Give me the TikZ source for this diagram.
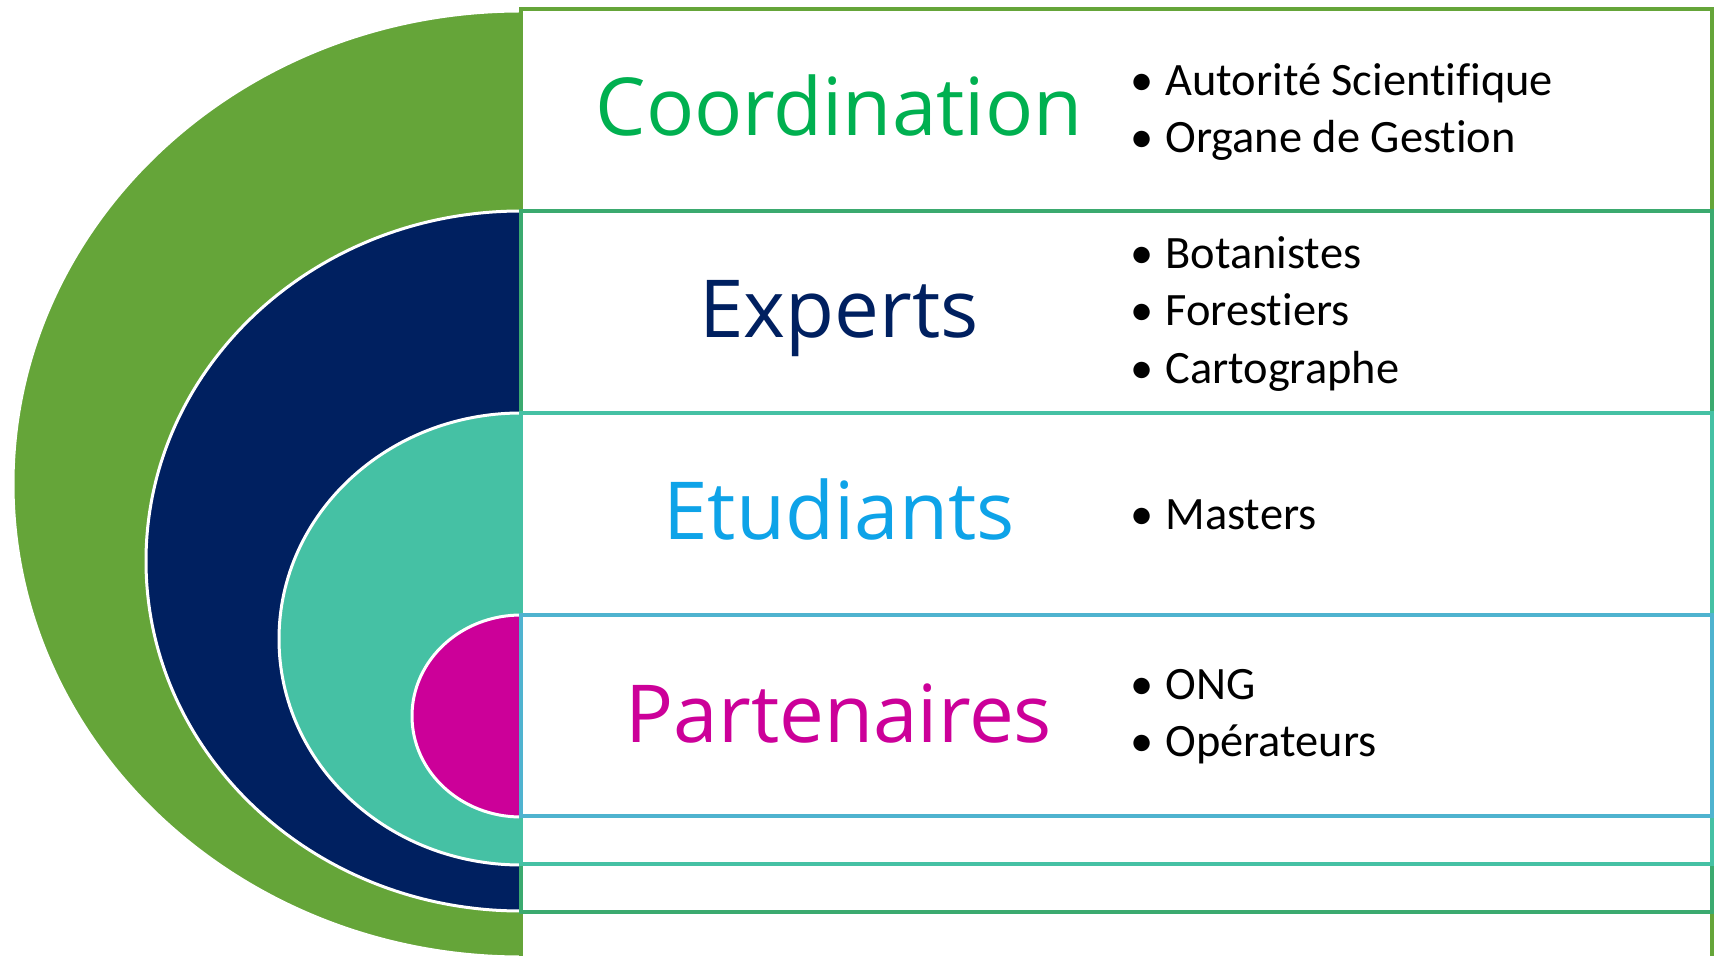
\documentclass[tikz,border=0pt]{standalone}
\usepackage{fontspec}
\newfontfamily\headfont{Open Sans}
\newfontfamily\itemfont[Ligatures=NoCommon]{Carlito}
\definecolor{levA}{HTML}{65A539}
\definecolor{levB}{HTML}{3BAA6F}
\definecolor{levC}{HTML}{45C1A4}
\definecolor{levD}{HTML}{4FB3CF}
\definecolor{navy}{HTML}{002060}
\definecolor{magenta}{HTML}{CC0099}
\definecolor{txtA}{HTML}{00B050}
\definecolor{txtC}{HTML}{0EA3E8}
\newcommand{\itm}[1]{\makebox[17.5pt][l]{\textbullet}#1}

\begin{document}
\begin{tikzpicture}[x=0.5pt,y=-0.5pt]
    \tikzstyle{every node}+=[inner sep=0pt]
    \tikzstyle{head}=[anchor=base,font=\headfont\fontsize{40}{48}\selectfont]
    \tikzstyle{items}=[anchor=west,align=left,font=\itemfont\fontsize{23.2}{28.6}\selectfont]
    \useasboundingbox (0,0) rectangle (1724,956);
    % half ellipses, outer to inner
    \foreach \t/\rx/\ry/\c in {11/254/236.5/levA, 211/187.5/175/navy, 413/121/113/levC, 615/54.5/50.5/magenta}
        \filldraw [white, line width=1.5pt, fill=\c] (521,\t) arc (90:270:\rx pt and \ry pt) -- cycle;
    % nested bands
    \foreach \t/\b/\c in {9/959/levA, 211/912/levB, 413/864/levC, 615/816/levD}
        \draw [\c, line width=2pt, fill=white] (521,\t) rectangle (1712,\b);
    % titles
    \node [head, txtA] (coord) at (839,136) {Coordination};
    \node [head, navy] (experts) at (839,338) {Experts};
    \node [head, txtC] (etud) at (839,540) {Etudiants};
    \node [head, magenta] (parten) at (839,742) {Partenaires};
    % lists
    \node [items] (coordlist) at (1130,112) {\itm{Autorité Scientifique}\\\itm{Organe de Gestion}};
    \node [items] (expertslist) at (1130,314) {\itm{Botanistes}\\\itm{Forestiers}\\\itm{Cartographe}};
    \node [items] (etudlist) at (1130,515) {\itm{Masters}};
    \node [items] (partenlist) at (1130,717) {\itm{ONG}\\\itm{Opérateurs}};
\end{tikzpicture}
\end{document}
